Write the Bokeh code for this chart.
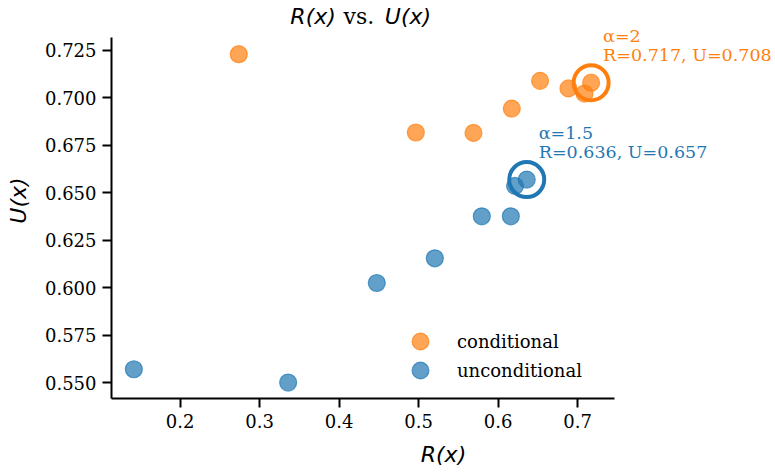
from bokeh.plotting import figure
from bokeh.models import Range1d, FixedTicker, Label, Legend, LegendItem, NumeralTickFormatter
from bokeh.embed import file_html
from bokeh.resources import INLINE

# ---- data ----
cond_R = [0.2738, 0.4965, 0.5690, 0.6172, 0.6528, 0.6885, 0.7087, 0.717]
cond_U = [0.7230, 0.6818, 0.6816, 0.6944, 0.7090, 0.7050, 0.7023, 0.708]
uncond_R = [0.1418, 0.3359, 0.4474, 0.5204, 0.5795, 0.6160, 0.6213, 0.636]
uncond_U = [0.5572, 0.5502, 0.6026, 0.6156, 0.6377, 0.6377, 0.6537, 0.657]

best_cond = {"alpha": "2", "R": 0.717, "U": 0.708}
best_uncond = {"alpha": "1.5", "R": 0.636, "U": 0.657}

x_ticks = [0.2, 0.3, 0.4, 0.5, 0.6, 0.7]
y_ticks = [0.550, 0.575, 0.600, 0.625, 0.650, 0.675, 0.700, 0.725]
x_bounds = (0.1137, 0.746)
y_bounds = (0.5418, 0.7319)

ORANGE = "#ff7f0e"
BLUE = "#1f77b4"
SERIF = "DejaVu Serif"
SANS = "DejaVu Sans"

W, H = 775, 472
LEFT, TOP, FH = 111, 2, 396
FW = W - LEFT

p = figure(width=W, height=H, frame_width=FW, frame_height=FH,
           min_border_left=LEFT, min_border_right=0, min_border_top=TOP,
           min_border_bottom=H - TOP - FH,
           x_range=Range1d(x_bounds[0], x_bounds[0] + FW / 795),
           y_range=Range1d(y_bounds[0], y_bounds[0] + FH / 1900),
           output_backend="svg", toolbar_location=None)

p.outline_line_color = None
p.xgrid.visible = False
p.ygrid.visible = False

for ax in (p.xaxis[0], p.yaxis[0]):
    ax.axis_line_width = 2
    ax.axis_line_color = "black"
    ax.major_tick_line_width = 2
    ax.major_tick_line_color = "black"
    ax.major_tick_out = 9
    ax.major_tick_in = 0
    ax.minor_tick_line_color = None
    ax.major_label_text_font = SERIF
    ax.major_label_text_font_size = "18px"
    ax.major_label_text_color = "black"
    ax.major_label_standoff = 6
    ax.axis_label_text_font = SANS
    ax.axis_label_text_font_style = "italic"
    ax.axis_label_text_font_size = "22px"
    ax.axis_label_text_color = "black"

p.xaxis.ticker = FixedTicker(ticks=x_ticks)
p.yaxis.ticker = FixedTicker(ticks=y_ticks)
p.xaxis.bounds = x_bounds
p.yaxis.bounds = y_bounds
p.xaxis.formatter = NumeralTickFormatter(format="0.0")
p.yaxis.formatter = NumeralTickFormatter(format="0.000")
p.xaxis.axis_label = "R(x)"
p.yaxis.axis_label = "U(x)"
p.xaxis.axis_label_standoff = 11
p.yaxis.axis_label_standoff = 11

# title centred over the axes area: "R(x) vs. U(x)"
xc = sum(x_bounds) / 2
title_parts = [("R(x)", SANS, "italic", "right", -27),
               ("vs.", SERIF, "normal", "center", -4),
               ("U(x)", SANS, "italic", "left", 22)]
for txt, fnt, sty, al, dx in title_parts:
    p.add_layout(Label(x=xc, y=y_bounds[1], x_offset=dx, y_offset=21,
                       text=txt, text_align=al, text_baseline="alphabetic",
                       text_font=fnt, text_font_style=sty, text_font_size="22px",
                       text_color="black"))

r_cond = p.scatter(cond_R, cond_U, size=17, fill_color=ORANGE, fill_alpha=0.7,
                   line_color=ORANGE, line_alpha=0.7, line_width=1.2)
r_unc = p.scatter(uncond_R, uncond_U, size=17, fill_color=BLUE, fill_alpha=0.7,
                  line_color=BLUE, line_alpha=0.7, line_width=1.2)

for best, col in ((best_cond, ORANGE), (best_uncond, BLUE)):
    p.scatter([best["R"]], [best["U"]], size=35, fill_color=None,
              line_color=col, line_width=4)
    p.add_layout(Label(x=best["R"], y=best["U"], x_offset=12, y_offset=47,
                       text="\u03b1=" + best["alpha"], text_font=SERIF,
                       text_font_size="17.5px", text_color=col,
                       text_baseline="alphabetic"))
    p.add_layout(Label(x=best["R"], y=best["U"], x_offset=12, y_offset=28,
                       text=f"R={best['R']:.3f}, U={best['U']:.3f}", text_font=SERIF,
                       text_font_size="17.5px", text_color=col,
                       text_baseline="alphabetic"))

for lbl, rend, loc in (("conditional", r_cond, (288, 36)),
                       ("unconditional", r_unc, (288, 7))):
    lg = Legend(items=[LegendItem(label=lbl, renderers=[rend])], location=loc)
    lg.border_line_color = None
    lg.background_fill_alpha = 0
    lg.label_text_font = SERIF
    lg.label_text_font_size = "18px"
    lg.label_text_color = "black"
    lg.glyph_width = 42
    lg.glyph_height = 42
    lg.label_height = 42
    lg.label_standoff = 16
    lg.padding = 0
    lg.margin = 0
    p.add_layout(lg)

open("out.html", "w").write(file_html(p, INLINE))
